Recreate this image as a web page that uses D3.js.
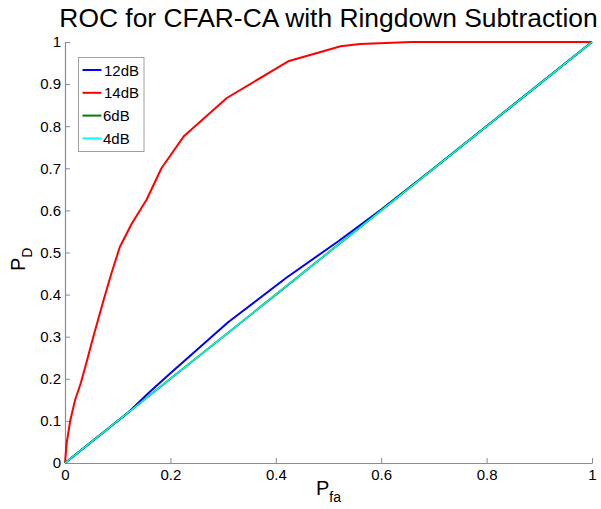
<!DOCTYPE html>
<html><head><meta charset="utf-8">
<script src="https://cdn.jsdelivr.net/npm/d3@7"></script>
<style>body{margin:0;background:#fff}svg text{font-family:"Liberation Sans",Arial,sans-serif}</style>
</head><body><svg id="c" width="601" height="509"></svg>
<script>
const seriesNames = ["12dB","14dB","6dB","4dB"];
const seriesColors = ["#0000ff","#ff0000","#008000","#00ffff"];
const pfa12 = [0,0.12,0.16,0.2,0.31,0.42,0.52,0.6,0.7,1];
const pd12  = [0,0.12,0.168,0.213,0.335,0.44,0.528,0.602,0.7,1];
const pfa14 = [0,0.003,0.01,0.019,0.03,0.04,0.049,0.056,0.073,0.088,0.104,0.126,0.155,0.183,0.226,0.307,0.425,0.523,0.56,0.657,1];
const pd14  = [0,0.046,0.101,0.149,0.19,0.235,0.278,0.31,0.386,0.45,0.513,0.567,0.626,0.70,0.777,0.867,0.955,0.99,0.995,1,1];
const pfa6 = [0,0.2,0.4,0.6,0.8,1];
const pd6  = [0,0.2,0.4,0.6,0.8,1];
const pfa4 = [0,0.2,0.4,0.6,0.8,1];
const pd4  = [0,0.2,0.4,0.6,0.8,1];
const tickVals = [0,0.1,0.2,0.3,0.4,0.5,0.6,0.7,0.8,0.9,1];
const xTickVals = [0,0.2,0.4,0.6,0.8,1];

const svg = d3.select("#c");
const L=65, R=592, T=42, B=463;
const x = d3.scaleLinear().domain([0,1]).range([L,R]);
const y = d3.scaleLinear().domain([0,1]).range([B,T]);
const axCol = "#8c8c8c";

const xa = svg.append("g").attr("transform",`translate(0,${B})`)
  .call(d3.axisBottom(x).tickValues(xTickVals).tickFormat(d3.format("")).tickSizeInner(-5).tickSizeOuter(0).tickPadding(7));
const ya = svg.append("g").attr("transform",`translate(${L},0)`)
  .call(d3.axisLeft(y).tickValues(tickVals).tickFormat(d3.format("")).tickSizeInner(-5).tickSizeOuter(0).tickPadding(4));
[xa,ya].forEach(g=>{
  g.select(".domain").attr("stroke",axCol).attr("stroke-width",1.2);
  g.selectAll(".tick line").attr("stroke",axCol);
  g.selectAll(".tick text").attr("fill","#000").attr("font-size",15).attr("font-family","Liberation Sans, Arial, sans-serif");
});
xa.selectAll(".tick text").attr("dy","0.71em").attr("y",6);
ya.selectAll(".tick text").attr("x",-4);

const series = [
  {name:seriesNames[0], color:seriesColors[0], xs:pfa12, ys:pd12},
  {name:seriesNames[1], color:seriesColors[1], xs:pfa14, ys:pd14},
  {name:seriesNames[2], color:seriesColors[2], xs:pfa6, ys:pd6},
  {name:seriesNames[3], color:seriesColors[3], xs:pfa4, ys:pd4},
];
const line = d3.line().x(d=>x(d[0])).y(d=>y(d[1]));
series.forEach(s=>{
  svg.append("path").datum(s.xs.map((v,i)=>[v,s.ys[i]]))
    .attr("d",line).attr("fill","none").attr("stroke",s.color)
    .attr("stroke-width",s.name==="4dB"?1.3:2).attr("stroke-linejoin","round");
});

svg.append("text").attr("x",(L+R)/2).attr("y",27).attr("text-anchor","middle")
  .attr("font-size",26.4).text("ROC for CFAR-CA with Ringdown Subtraction");

const xl = svg.append("text").attr("x",316).attr("y",495).attr("font-size",20);
xl.append("tspan").text("P");
xl.append("tspan").attr("font-size",14).attr("dy",7).text("fa");
const yl = svg.append("text").attr("transform","translate(25,271) rotate(-90)").attr("font-size",20);
yl.append("tspan").text("P");
yl.append("tspan").attr("font-size",14).attr("dy",7).text("D");

const lg = svg.append("g");
lg.append("rect").attr("x",78.5).attr("y",57.5).attr("width",65.5).attr("height",94)
  .attr("fill","#fff").attr("stroke","#a0a0a0").attr("stroke-width",1);
series.forEach((s,i)=>{
  const cy = 70 + i*22.8;
  lg.append("line").attr("x1",82.5).attr("x2",101.5).attr("y1",cy).attr("y2",cy)
    .attr("stroke",s.color).attr("stroke-width",2);
  lg.append("text").attr("x",s.name.length>3?104:103).attr("y",cy+5.5).attr("font-size",15).text(s.name);
});
</script></body></html>
